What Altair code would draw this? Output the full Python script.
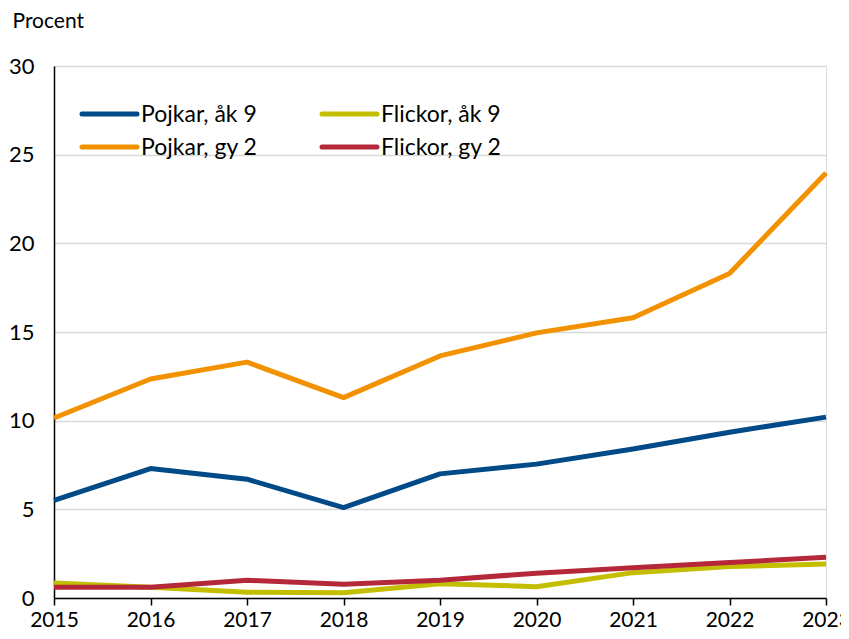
import altair as alt
import pandas as pd

years = [2015, 2016, 2017, 2018, 2019, 2020, 2021, 2022, 2023]
pojkar_ak9 = [5.5, 7.3, 6.7, 5.1, 7.0, 7.55, 8.4, 9.35, 10.2]
flickor_ak9 = [0.85, 0.6, 0.33, 0.3, 0.8, 0.64, 1.43, 1.77, 1.92]
pojkar_gy2 = [10.15, 12.35, 13.3, 11.3, 13.65, 14.95, 15.8, 18.3, 23.97]
flickor_gy2 = [0.6, 0.6, 1.0, 0.78, 1.0, 1.4, 1.7, 2.0, 2.3]

series_names = ["Pojkar, åk 9", "Pojkar, gy 2", "Flickor, åk 9", "Flickor, gy 2"]
series_colors = ["#004a87", "#f39200", "#c3bf00", "#b5283a"]

values = {
    "Pojkar, åk 9": pojkar_ak9,
    "Flickor, åk 9": flickor_ak9,
    "Pojkar, gy 2": pojkar_gy2,
    "Flickor, gy 2": flickor_gy2,
}
rows = []
for name in series_names:
    for y, v in zip(years, values[name]):
        rows.append({"year": y, "value": v, "series": name})
df = pd.DataFrame(rows)

# legend layout (pixels within the plot area), two columns filled column-wise
leg_rows = []
for i, name in enumerate(series_names):
    col, row = divmod(i, 2)
    x0 = 28 + col * 240
    leg_rows.append({"series": name, "lx": x0, "lx2": x0 + 55,
                     "tx": x0 + 59, "ly": 48 + row * 33})
leg_df = pd.DataFrame(leg_rows)

FONT = "Lato"

x = alt.X("year:Q",
          scale=alt.Scale(domain=[2015, 2023], nice=False, zero=False),
          axis=alt.Axis(values=years, format="d", title=None, grid=False,
                        ticks=True, tickSize=7, tickColor="black", tickWidth=1.5,
                        domainColor="black", domainWidth=1.5,
                        labelFontSize=21, labelColor="black", labelFont=FONT,
                        labelPadding=4, labelFlush=False, labelOverlap=False))
y = alt.Y("value:Q",
          scale=alt.Scale(domain=[0, 30], nice=False),
          axis=alt.Axis(values=[0, 5, 10, 15, 20, 25, 30], title="Procent",
                        titleAngle=0, titleAlign="left", titleBaseline="alphabetic",
                        titleX=-42, titleY=-39, titleFontSize=21, titleFontWeight="normal",
                        titleFont=FONT, titleColor="black",
                        ticks=False, grid=True, gridColor="#d9d9d9", gridWidth=1.5,
                        domainColor="black", domainWidth=1.5,
                        labelFontSize=22, labelColor="black", labelFont=FONT,
                        labelPadding=20))
color = alt.Color("series:N",
                  scale=alt.Scale(domain=series_names, range=series_colors),
                  legend=None)

layers = []
for name in series_names:
    layers.append(
        alt.Chart(df).transform_filter(alt.datum.series == name)
        .mark_line(strokeWidth=5, strokeCap="butt", strokeJoin="round")
        .encode(x=x, y=y, color=color)
    )

leg_lines = alt.Chart(leg_df).mark_rule(strokeWidth=5, strokeCap="round").encode(
    x=alt.X("lx:Q", scale=None), x2="lx2:Q",
    y=alt.Y("ly:Q", scale=None), color=color)
leg_text = alt.Chart(leg_df).mark_text(
    align="left", baseline="middle", fontSize=23, font=FONT, color="black", dy=1
).encode(x=alt.X("tx:Q", scale=None), y=alt.Y("ly:Q", scale=None), text="series:N")

chart = alt.layer(*layers, leg_lines, leg_text).properties(
    width=772, height=532,
    padding={"left": 46, "top": 58, "right": 15, "bottom": 33},
    autosize=alt.AutoSizeParams(type="none"),
).configure_view(stroke="black", strokeWidth=1.5).configure(background="white")

chart.save("out.html", embed_options={"renderer": "svg", "actions": False})
